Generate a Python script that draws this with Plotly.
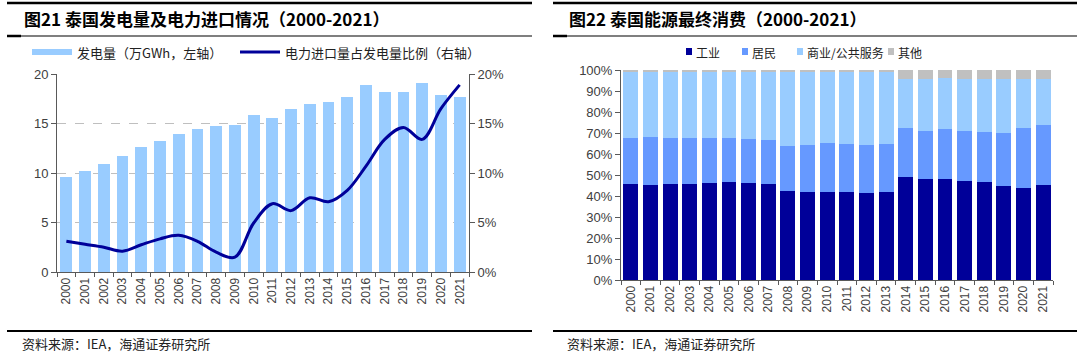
import plotly.graph_objects as go

W, H = 1080, 359

# ---------------- data ----------------
years = ["2000", "2001", "2002", "2003", "2004", "2005", "2006", "2007", "2008", "2009", "2010",
         "2011", "2012", "2013", "2014", "2015", "2016", "2017", "2018", "2019", "2020", "2021"]

# Fig 21: generation (10k GWh, left axis) and import share (% of generation, right axis)
generation = [9.6, 10.2, 10.9, 11.7, 12.6, 13.2, 13.9, 14.4, 14.7, 14.8, 15.9,
              15.6, 16.5, 17.0, 17.2, 17.7, 18.9, 18.2, 18.2, 19.05, 17.9, 17.7]
import_share = [3.1, 2.8, 2.5, 2.1, 2.75, 3.35, 3.7, 3.1, 2.0, 1.5, 4.95,
                6.9, 6.2, 7.5, 7.1, 8.25, 10.7, 13.4, 14.6, 13.4, 16.5, 18.9]

# Fig 22: final energy consumption shares (%)
industry = [45.6, 45.1, 45.6, 45.6, 46.0, 46.5, 46.0, 45.6, 42.4, 41.7, 42.1,
            42.1, 41.3, 41.7, 48.9, 47.9, 47.9, 47.1, 46.5, 44.8, 43.8, 45.2]
residential = [22.2, 23.2, 22.2, 22.2, 21.8, 21.3, 21.3, 21.2, 21.3, 22.4, 23.0,
               22.5, 22.8, 22.9, 23.3, 23.2, 23.8, 24.0, 24.1, 25.0, 28.4, 28.5]
commercial = [31.6, 31.1, 31.6, 31.6, 31.6, 31.6, 32.1, 32.6, 35.7, 35.3, 34.3,
              34.8, 35.3, 34.8, 23.5, 24.6, 24.6, 24.6, 25.1, 25.9, 23.5, 22.0]
other = [0.6, 0.6, 0.6, 0.6, 0.6, 0.6, 0.6, 0.6, 0.6, 0.6, 0.6,
         0.6, 0.6, 0.6, 4.3, 4.3, 3.7, 4.3, 4.3, 4.3, 4.3, 4.3]

left_series = ["发电量（万GWh，左轴）", "电力进口量占发电量比例（右轴）"]
right_series = ["工业", "居民", "商业/公共服务", "其他"]

title_left = "图21 泰国发电量及电力进口情况（2000-2021）"
title_right = "图22 泰国能源最终消费（2000-2021）"
source_text = "资料来源：IEA，海通证券研究所"

# ---------------- styles ----------------
C_BAR = "#99CCFF"
C_LINE = "#000099"
C_IND = "#000099"
C_RES = "#6699FF"
C_COM = "#99CCFF"
C_OTH = "#C0C0C0"
AX = "#595959"
TXT = "#404040"
CJK = "Noto Sans CJK SC"
LAT = "Liberation Sans, Arial"


def px(x):
    return x / W


def py(y):
    return 1 - y / H


fig = go.Figure()

# Left chart
fig.add_trace(go.Bar(x=years, y=generation, name=left_series[0], marker_color=C_BAR,
                     marker_line_width=0, width=0.63, xaxis="x", yaxis="y", showlegend=False))
fig.add_trace(go.Scatter(x=years, y=import_share, name=left_series[1], mode="lines",
                         line=dict(color=C_LINE, width=3, shape="spline", smoothing=1.0),
                         xaxis="x", yaxis="y2", showlegend=False))

# Right chart
for vals, name, col in [(industry, right_series[0], C_IND), (residential, right_series[1], C_RES),
                        (commercial, right_series[2], C_COM), (other, right_series[3], C_OTH)]:
    fig.add_trace(go.Bar(x=years, y=vals, name=name, marker_color=col, marker_line_width=0,
                         width=0.76, xaxis="x2", yaxis="y3", showlegend=False))

tickfont = dict(family=LAT, size=13, color=TXT)
xtickfont = dict(family=LAT, size=12, color=TXT)

fig.update_layout(
    width=W, height=H,
    margin=dict(l=0, r=0, t=0, b=0, pad=0, autoexpand=False),
    paper_bgcolor="white", plot_bgcolor="white",
    barmode="stack",
    showlegend=False,
    xaxis=dict(domain=[px(57), px(469)], type="category", tickangle=-90, tickfont=xtickfont,
               showline=True, linecolor=AX, linewidth=1, ticks="outside", ticklen=4,
               tickcolor=AX, tickson="boundaries", showgrid=False, anchor="y", automargin=False),
    yaxis=dict(domain=[py(272), py(74)], range=[0, 20], dtick=5, tickfont=tickfont,
               showline=True, linecolor=AX, linewidth=1, ticks="outside", ticklen=5,
               tickcolor=AX, showgrid=True, gridcolor="#BFBFBF", griddash="dash",
               gridwidth=1, zeroline=False, anchor="x", automargin=False),
    yaxis2=dict(overlaying="y", side="right", range=[0, 20], dtick=5, ticksuffix="%",
                tickfont=tickfont, showline=True, linecolor=AX, linewidth=1,
                ticks="outside", ticklen=5, tickcolor=AX, showgrid=False, zeroline=False,
                anchor="x", automargin=False),
    xaxis2=dict(domain=[px(621), px(1053)], type="category", tickangle=-90, tickfont=xtickfont,
                showline=True, linecolor=AX, linewidth=1, ticks="outside", ticklen=4,
                tickcolor=AX, tickson="boundaries", showgrid=False, anchor="y3", automargin=False),
    yaxis3=dict(domain=[py(280), py(70)], range=[0, 100], dtick=10, ticksuffix="%",
                tickfont=tickfont, showline=True, linecolor=AX, linewidth=1,
                ticks="outside", ticklen=5, tickcolor=AX, showgrid=False, zeroline=False,
                anchor="x2", automargin=False),
)

shapes = []
annotations = []


def hline(x0, x1, y, w, color="black"):
    shapes.append(dict(type="line", xref="paper", yref="paper", x0=px(x0), x1=px(x1),
                       y0=py(y), y1=py(y), line=dict(color=color, width=w)))


# frame lines for both panels
for (xa, xb, tx, title) in [(7, 532, 22, title_left), (553, 1077, 567, title_right)]:
    hline(xa, xb, 3, 2.5)
    hline(xa, xb, 36, 1.2)
    hline(xa, xa + 14, 36, 2.5)
    hline(xa, xb, 331, 2)
    annotations.append(dict(text="<b>" + title + "</b>", xref="paper", yref="paper",
                            x=px(tx), y=py(19), xanchor="left", yanchor="middle",
                            showarrow=False, font=dict(family=CJK, size=17, color="black")))
    annotations.append(dict(text=source_text, xref="paper", yref="paper",
                            x=px(tx - 2), y=py(343), xanchor="left", yanchor="middle",
                            showarrow=False, font=dict(family=CJK, size=13, color="#222222")))

# left legend
shapes.append(dict(type="rect", xref="paper", yref="paper", x0=px(32), x1=px(72),
                   y0=py(55), y1=py(49), fillcolor=C_BAR, line=dict(width=0)))
annotations.append(dict(text=left_series[0], xref="paper", yref="paper", x=px(75), y=py(52),
                        xanchor="left", yanchor="middle", showarrow=False,
                        font=dict(family=CJK, size=13, color="#222222")))
hline(240, 280, 52, 3, C_LINE)
annotations.append(dict(text=left_series[1], xref="paper", yref="paper", x=px(283), y=py(52),
                        xanchor="left", yanchor="middle", showarrow=False,
                        font=dict(family=CJK, size=13, color="#222222")))

# right legend
for xs, name, col in [(686, right_series[0], C_IND), (742, right_series[1], C_RES),
                      (797, right_series[2], C_COM), (888, right_series[3], C_OTH)]:
    shapes.append(dict(type="rect", xref="paper", yref="paper", x0=px(xs), x1=px(xs + 6),
                       y0=py(55), y1=py(48), fillcolor=col, line=dict(width=0)))
    annotations.append(dict(text=name, xref="paper", yref="paper", x=px(xs + 8), y=py(52),
                            xanchor="left", yanchor="middle", showarrow=False,
                            font=dict(family=CJK, size=12, color="#222222")))

fig.update_layout(shapes=shapes, annotations=annotations)

fig.write_html("out.html", config={"displayModeBar": False},
               post_script="document.body.style.margin='0';")
